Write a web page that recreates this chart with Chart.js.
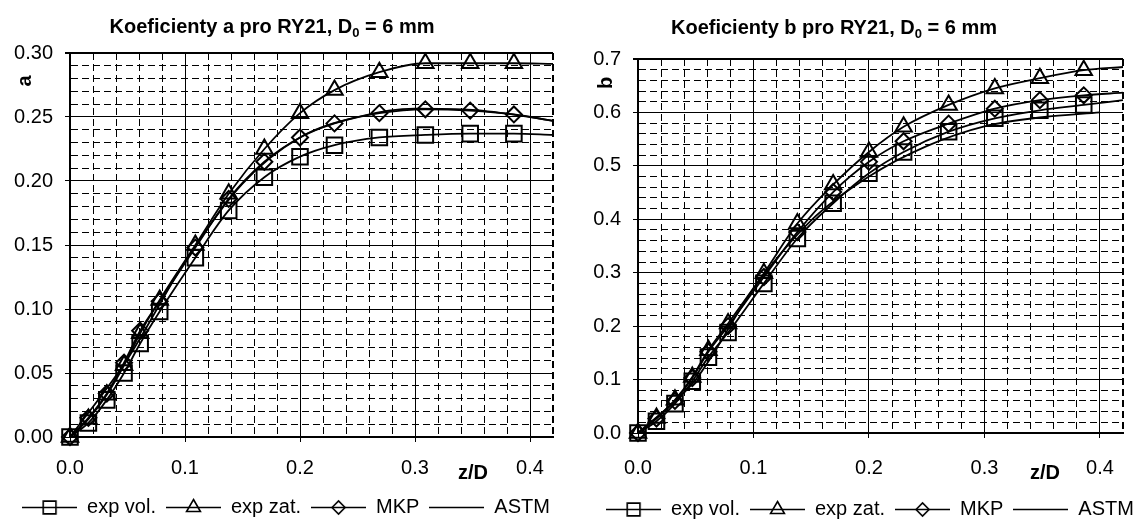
<!DOCTYPE html>
<html>
<head>
<meta charset="utf-8">
<script src="https://cdn.jsdelivr.net/npm/chart.js@4.4.1/dist/chart.umd.min.js"></script>
<style>
  body { margin: 0; background: #fff; overflow: hidden; }
  #wrap { position: relative; width: 1136px; height: 519px; overflow: hidden; }
  .box { position: absolute; top: 0; height: 519px; }
</style>
</head>
<body>
<div id="wrap">
  <div class="box" style="left:0;width:572px"><canvas id="chartA" width="572" height="519"></canvas></div>
  <div class="box" style="left:568px;width:604px"><canvas id="chartB" width="604" height="519"></canvas></div>
</div>
<script>
const FONT = "'Liberation Sans', Arial, sans-serif";

// z/D of the measured points (same in both charts) and right edge of the fitted curves
const zPoints = [0, 0.016, 0.032, 0.047, 0.061, 0.078, 0.109, 0.138, 0.169, 0.200, 0.230, 0.269, 0.309, 0.348, 0.386];
const zEdge = 0.42;
const seriesNames = ['exp vol.', 'exp zat.', 'MKP', 'ASTM'];

// tick labels
const xTicks = [0.0, 0.1, 0.2, 0.3, 0.4];
const aTicks = [0, 0.05, 0.10, 0.15, 0.20, 0.25, 0.30];
const bTicks = [0, 0.1, 0.2, 0.3, 0.4, 0.5, 0.6, 0.7];

// coefficient a
const aExpVol = [0, 0.011, 0.029, 0.050, 0.073, 0.098, 0.140, 0.177, 0.203, 0.219, 0.228, 0.234, 0.236, 0.237, 0.237];
const aExpZat = [0, 0.014, 0.033, 0.056, 0.081, 0.107, 0.150, 0.190, 0.225, 0.253, 0.271, 0.285, 0.292, 0.292, 0.292];
const aMkp = [0, 0.015, 0.034, 0.058, 0.083, 0.106, 0.148, 0.186, 0.215, 0.234, 0.245, 0.253, 0.256, 0.255, 0.252];
const aEdge = [0.236, 0.2915, 0.247];
const zAstmA = [0, 0.05, 0.10, 0.15, 0.20, 0.25, 0.30, 0.35, 0.40, 0.42];
const aAstm = [0, 0.061, 0.137, 0.198, 0.234, 0.250, 0.2565, 0.2555, 0.250, 0.247];

// coefficient b
const bExpVol = [0, 0.022, 0.055, 0.097, 0.142, 0.188, 0.280, 0.364, 0.430, 0.486, 0.526, 0.564, 0.589, 0.604, 0.614];
const bExpZat = [0, 0.028, 0.062, 0.105, 0.155, 0.205, 0.299, 0.392, 0.465, 0.526, 0.573, 0.614, 0.645, 0.664, 0.679];
const bMkp = [0, 0.027, 0.060, 0.103, 0.152, 0.200, 0.292, 0.376, 0.451, 0.5075, 0.546, 0.579, 0.607, 0.623, 0.632];
const bEdge = [0.623, 0.685, 0.637];
const zAstmB = [0, 0.05, 0.10, 0.15, 0.20, 0.25, 0.30, 0.35, 0.40];
const bAstm = [0, 0.100, 0.270, 0.398, 0.480, 0.537, 0.574, 0.591, 0.600];

const markerStyles = ['rect', 'triangle', 'rectRot'];
const markerRadius = [11, 9.5, 8];
const legendRadius = [9, 8, 6.5];
const clear = 'rgba(0,0,0,0)';

function isIn(list, v) {
  return list.some(t => Math.abs(t - v) < 1e-6);
}

// little line + marker picture used as legend symbol
function legendSymbol(i) {
  const c = document.createElement('canvas');
  c.width = 55; c.height = 20;
  const g = c.getContext('2d');
  g.strokeStyle = '#000';
  g.lineWidth = 1.6;
  g.beginPath(); g.moveTo(0, 10.5); g.lineTo(55, 10.5); g.stroke();
  if (i < 3) {
    g.fillStyle = clear;
    Chart.helpers.drawPoint(g, {pointStyle: markerStyles[i], radius: legendRadius[i], borderWidth: 1.8}, 27.5, 10.5);
  }
  return c;
}

function markerSeries(i, values, edge) {
  const n = values.length;
  const data = zPoints.map((z, k) => ({x: z, y: values[k]}));
  data.push({x: zEdge, y: edge});
  return {
    label: seriesNames[i],
    data: data,
    borderColor: '#000',
    borderWidth: 1.8,
    backgroundColor: clear,
    pointStyle: markerStyles[i],
    pointRadius: c => c.dataIndex < n ? markerRadius[i] : 0,
    pointBorderWidth: 2,
    pointBorderColor: '#000',
    pointBackgroundColor: clear,
    cubicInterpolationMode: 'monotone',
    clip: false
  };
}

function astmSeries(zs, values) {
  return {
    label: seriesNames[3],
    data: zs.map((z, k) => ({x: z, y: values[k]})),
    borderColor: '#000',
    borderWidth: 1.8,
    pointRadius: 0,
    cubicInterpolationMode: 'monotone',
    clip: false
  };
}

function gridOpts(majors, max) {
  return {
    grid: {
      color: '#000',
      lineWidth: c => (c.tick && Math.abs(c.tick.value - max) < 1e-6) ? 2 : 1,
      tickLength: 5,
      tickColor: c => (c.tick && isIn(majors, c.tick.value)) ? '#000' : clear
    },
    border: {
      color: '#000',
      width: 2,
      dash: c => (!c.tick || isIn(majors, c.tick.value)) ? [] : [7, 4]
    }
  };
}

const headingPlugin = {
  id: 'heading',
  afterDraw(chart, args, o) {
    const ctx = chart.ctx;
    ctx.save();
    ctx.fillStyle = '#000';
    ctx.textBaseline = 'middle';
    ctx.textAlign = 'left';
    const big = 'bold 20px ' + FONT, small = 'bold 13px ' + FONT;
    ctx.font = big;
    const w1 = ctx.measureText(o.before).width;
    const w3 = ctx.measureText(o.after).width;
    ctx.font = small;
    const w2 = ctx.measureText(o.sub).width;
    let x = o.x - (w1 + w2 + w3) / 2;
    ctx.font = big; ctx.fillText(o.before, x, o.y); x += w1;
    ctx.font = small; ctx.fillText(o.sub, x, o.y + 6); x += w2;
    ctx.font = big; ctx.fillText(o.after, x, o.y);
    ctx.textAlign = 'center';
    ctx.fillText(o.xCaption, o.xCapX, o.xCapY);
    ctx.translate(o.yCapX, o.yCapY);
    ctx.rotate(-Math.PI / 2);
    ctx.fillText(o.yCaption, 0, 0);
    ctx.restore();
  }
};

function makeChart(id, cfg) {
  const icons = [0, 1, 2, 3].map(legendSymbol);
  const xg = gridOpts(xTicks, zEdge);
  const yg = gridOpts(cfg.yTicks, cfg.yMax);
  new Chart(document.getElementById(id), {
    type: 'line',
    data: { datasets: cfg.datasets },
    options: {
      responsive: false,
      animation: false,
      devicePixelRatio: 1,
      layout: { padding: cfg.padding },
      scales: {
        x: {
          type: 'linear',
          min: 0, max: zEdge,
          ticks: {
            stepSize: 0.02, autoSkip: false, maxRotation: 0, padding: cfg.xPad,
            color: '#000', font: {size: 20},
            callback: v => isIn(xTicks, v) ? v.toFixed(1) : ''
          },
          grid: xg.grid, border: xg.border,
          afterFit: s => { s.height = cfg.xHeight; }
        },
        y: {
          min: 0, max: cfg.yMax,
          ticks: {
            stepSize: cfg.yStep, autoSkip: false, padding: 12,
            color: '#000', font: {size: 20},
            callback: v => isIn(cfg.yTicks, v) ? v.toFixed(cfg.yDigits) : ''
          },
          grid: yg.grid, border: yg.border,
          afterFit: s => { s.width = 70; }
        },
        // empty strip on the right so the legend sits where it does in the original
        yGap: {
          type: 'linear',
          position: 'right',
          ticks: { display: false },
          grid: { display: false, drawTicks: false },
          border: { display: false },
          afterFit: s => { s.width = cfg.rightGap; }
        }
      },
      plugins: {
        title: { display: false },
        tooltip: { enabled: false },
        legend: {
          position: 'bottom',
          labels: {
            usePointStyle: true,
            pointStyleWidth: 55,
            padding: 10,
            color: '#000',
            font: {size: 20},
            generateLabels: chart => chart.data.datasets.map((ds, i) => ({
              text: ds.label,
              pointStyle: icons[i],
              fillStyle: clear,
              strokeStyle: clear,
              lineWidth: 0,
              hidden: false,
              datasetIndex: i,
              fontColor: '#000'
            }))
          }
        },
        heading: cfg.heading
      }
    },
    plugins: [headingPlugin]
  });
}

Chart.defaults.font.family = FONT;
Chart.defaults.color = '#000';

makeChart('chartA', {
  datasets: [
    markerSeries(0, aExpVol, aEdge[0]),
    markerSeries(1, aExpZat, aEdge[1]),
    markerSeries(2, aMkp, aEdge[2]),
    astmSeries(zAstmA, aAstm)
  ],
  yMax: 0.30, yStep: 0.01, yTicks: aTicks, yDigits: 2,
  padding: {top: 53, left: 0, right: 0, bottom: -8},
  rightGap: 19, xHeight: 50, xPad: 14,
  heading: {
    before: 'Koeficienty a pro RY21, D', sub: '0', after: ' = 6 mm', x: 272, y: 27,
    xCaption: 'z/D', xCapX: 473, xCapY: 473,
    yCaption: 'a', yCapX: 25, yCapY: 81
  }
});

makeChart('chartB', {
  datasets: [
    markerSeries(0, bExpVol, bEdge[0]),
    markerSeries(1, bExpZat, bEdge[1]),
    markerSeries(2, bMkp, bEdge[2]),
    astmSeries(zAstmB, bAstm)
  ],
  yMax: 0.7, yStep: 0.02, yTicks: bTicks, yDigits: 1,
  padding: {top: 59, left: 0, right: 0, bottom: -10},
  rightGap: 49, xHeight: 56, xPad: 18,
  heading: {
    before: 'Koeficienty b pro RY21, D', sub: '0', after: ' = 6 mm', x: 266, y: 28,
    xCaption: 'z/D', xCapX: 477, xCapY: 473,
    yCaption: 'b', yCapX: 38, yCapY: 83
  }
});
</script>
</body>
</html>
